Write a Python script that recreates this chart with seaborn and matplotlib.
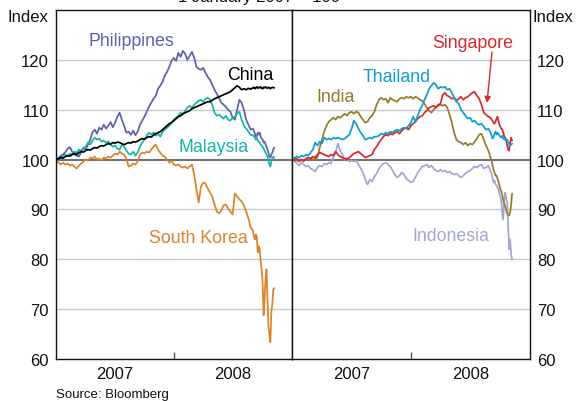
import numpy as np
import pandas as pd
import matplotlib
matplotlib.use("Agg")
import matplotlib.pyplot as plt
import seaborn as sns

# ---------------- data (index, 1 January 2007 = 100) ----------------
WEEKLY_START = "2007-01-02"
TAIL_START = "2008-09-05"

philippines = [100.0, 100.3, 100.8, 101.0, 101.5, 102.2, 102.5, 101.6, 101.0, 100.8,
               100.6, 101.5, 102.3, 102.0, 103.0, 104.0, 105.5, 106.0, 105.2, 106.4,
               106.0, 107.0, 106.2, 106.8, 107.5, 106.5, 107.4, 108.6, 109.4, 108.0,
               106.8, 105.4, 105.6, 105.0, 105.8, 104.9, 105.6, 107.0, 107.8, 108.6,
               109.6, 110.6, 111.4, 112.2, 112.8, 114.2, 114.8, 115.6, 116.8, 117.6,
               118.6, 119.8, 120.4, 119.8, 121.4, 120.6, 121.8, 121.2, 120.0, 120.8,
               121.6, 120.4, 118.6, 118.2, 118.0, 118.4, 117.4, 116.6, 116.0, 115.0,
               114.0, 113.2, 112.4, 111.4, 111.0, 110.6, 110.0, 109.6, 108.4, 108.0,
               110.0, 112.0, 111.4, 110.0, 108.0, 107.0, 106.0, 106.2,
               105.8, 105.2, 104.6, 104.8, 105.4, 105.0, 105.4, 104.6, 104.2, 104.0,
               103.4, 103.6, 103.0, 102.6, 102.0, 101.4, 100.6, 100.4, 101.0, 101.4,
               102.0, 102.4]

china = [100.0, 100.2, 100.4, 100.3, 100.6, 100.8, 100.7, 101.0, 101.2, 101.0,
         101.4, 101.6, 101.5, 101.8, 102.0, 101.9, 102.2, 102.4, 102.3, 102.6,
         102.8, 102.7, 103.0, 103.2, 103.1, 103.4, 103.3, 103.5, 103.4, 103.2,
         103.0, 103.2, 103.4, 103.3, 103.6, 103.5, 103.7, 104.0, 104.2, 104.1,
         104.4, 104.6, 104.5, 104.9, 105.2, 105.4, 105.6, 106.0, 106.4, 106.8,
         107.2, 107.4, 107.8, 108.2, 108.6, 108.8, 109.2, 109.4, 109.6, 109.8,
         110.2, 110.4, 110.6, 110.8, 111.0, 111.2, 111.4, 111.6, 111.6, 111.9,
         112.2, 112.4, 112.6, 112.8, 113.0, 113.2, 113.4, 113.6, 114.0, 114.4,
         114.8, 114.5, 114.0, 114.2, 114.0, 114.3, 114.1, 114.4,
         114.5, 114.2, 114.4, 114.6, 114.3, 114.5, 114.4, 114.6, 114.3, 114.2,
         114.5, 114.4, 114.6, 114.4, 114.3, 114.5, 114.4, 114.2, 114.4, 114.5,
         114.4, 114.4]

malaysia = [100.0, 100.4, 100.2, 100.8, 101.0, 100.6, 101.2, 101.0, 101.6, 101.4,
            102.0, 101.8, 102.4, 102.6, 103.4, 103.0, 103.8, 104.4, 104.0, 104.2,
            103.6, 103.8, 103.4, 103.6, 103.0, 102.6, 102.8, 102.2, 102.0, 103.0,
            102.6, 101.8, 101.2, 101.0, 101.6, 100.8, 101.4, 102.6, 103.4, 104.0,
            104.8, 105.4, 105.0, 105.4, 104.8, 105.2, 104.6, 105.6, 106.0, 106.4,
            106.8, 107.4, 108.0, 108.4, 108.8, 109.4, 109.0, 109.8, 110.4, 110.8,
            110.4, 111.0, 111.4, 111.8, 112.0, 111.6, 112.2, 112.4, 112.0, 111.0,
            109.4, 108.8, 109.0, 108.6, 108.2, 108.8, 108.0, 107.8, 108.4, 108.6,
            109.2, 109.6, 108.0, 106.8, 106.2, 105.6, 105.0, 104.8,
            104.8, 104.4, 104.0, 104.4, 103.8, 103.6, 103.4, 103.0, 102.8, 102.6,
            102.2, 101.8, 101.4, 101.0, 100.6, 99.8, 99.0, 98.6, 99.6, 100.2,
            100.6, 100.4]

south_korea = [99.8, 99.4, 99.0, 99.4, 99.0, 99.2, 98.8, 99.0, 98.6, 98.2,
               98.8, 99.2, 99.6, 100.0, 99.8, 100.4, 100.2, 100.6, 100.0, 100.2,
               99.8, 100.4, 100.2, 100.6, 100.4, 100.8, 101.2, 101.0, 101.6, 101.2,
               101.0, 100.2, 98.6, 98.8, 99.2, 99.0, 99.6, 101.0, 101.4, 101.2,
               101.6, 101.4, 102.0, 102.6, 103.0, 102.0, 101.4, 100.8, 100.6, 100.0,
               99.4, 99.8, 99.0, 98.8, 99.0, 98.6, 98.4, 98.6, 98.2, 98.6,
               99.0, 97.0, 94.0, 91.4, 94.6, 95.4, 95.2, 94.2, 93.4, 92.6,
               91.0, 89.6, 89.2, 89.8, 90.8, 91.0, 90.2, 89.6, 89.0, 93.2,
               92.6, 92.0, 91.6, 90.8, 89.6, 88.2, 86.4, 85.8,
               84.6, 84.0, 85.0, 84.4, 81.4, 82.6, 82.0, 79.4, 78.0, 75.4,
               68.8, 72.0, 76.0, 78.0, 72.0, 66.6, 64.8, 63.4, 69.4, 71.0,
               74.0, 74.2]

india = [100.0, 100.2, 99.8, 99.6, 100.0, 99.6, 100.2, 99.8, 100.4, 100.0,
         100.2, 100.4, 102.4, 104.0, 105.6, 106.8, 107.6, 108.0, 108.4, 108.0,
         108.6, 108.4, 108.8, 109.2, 108.8, 109.4, 109.6, 109.2, 109.6, 109.4,
         108.6, 108.0, 107.4, 107.6, 108.4, 108.8, 109.6, 111.0, 112.0, 112.4,
         112.0, 112.2, 111.4, 112.4, 112.0, 111.8, 111.6, 112.2, 112.4, 112.2,
         112.6, 112.4, 112.6, 112.2, 112.6, 112.4, 112.0, 111.8, 111.2, 110.4,
         109.8, 109.4, 110.0, 110.6, 110.8, 111.0, 110.8, 111.0, 110.4, 109.0,
         107.4, 105.4, 104.0, 103.6, 103.4, 103.0, 103.4, 102.8, 103.2, 103.0,
         103.6, 104.2, 105.0, 105.2, 104.0, 102.8, 101.8, 100.4,
         99.8, 98.8, 98.0, 97.4, 96.8, 96.8, 96.2, 95.6, 94.8, 94.0,
         93.6, 92.8, 91.8, 91.2, 90.6, 89.8, 89.2, 88.8, 88.8, 89.4,
         91.0, 93.2]

thailand = [100.0, 100.4, 100.6, 100.4, 100.8, 100.6, 101.0, 100.8, 101.4, 102.0,
            103.4, 102.8, 103.6, 103.2, 104.4, 104.0, 104.2, 104.0, 104.4, 104.2,
            104.4, 104.2, 104.0, 104.2, 104.6, 105.0, 106.2, 107.8, 107.2, 106.2,
            105.4, 104.8, 104.0, 104.2, 104.4, 104.2, 104.6, 104.6, 104.8, 105.2,
            105.0, 105.4, 105.2, 105.6, 105.4, 105.8, 106.0, 105.8, 106.2, 106.4,
            106.2, 106.8, 107.4, 108.6, 107.6, 108.8, 110.0, 110.8, 112.0, 113.0,
            114.2, 114.8, 115.4, 115.0, 114.2, 114.6, 114.4, 114.6, 114.0, 114.2,
            113.4, 112.4, 111.6, 111.2, 110.0, 109.4, 108.8, 108.2, 108.4, 107.6,
            107.8, 107.2, 107.0, 107.2, 106.6, 106.0, 106.2, 105.4,
            104.8, 104.2, 104.6, 105.2, 105.6, 105.0, 105.4, 105.2, 104.8, 104.6,
            104.4, 104.8, 104.2, 104.0, 104.2, 103.8, 104.0, 103.4, 103.0, 102.8,
            103.0, 103.2]

singapore = [100.0, 99.8, 100.2, 99.8, 100.0, 99.8, 100.2, 100.4, 100.2, 100.6,
             100.4, 101.0, 101.4, 101.2, 101.0, 100.8, 100.6, 101.0, 100.8, 101.6,
             101.0, 100.6, 100.4, 100.2, 100.0, 100.4, 100.8, 101.2, 101.4, 101.6,
             101.2, 100.8, 100.4, 100.6, 100.8, 101.0, 102.0, 102.6, 103.4, 104.0,
             104.6, 105.0, 104.8, 105.2, 105.0, 105.4, 105.6, 105.2, 105.8, 106.2,
             106.4, 106.0, 106.8, 107.2, 107.6, 108.2, 108.6, 108.8, 109.4, 109.8,
             110.4, 110.6, 110.8, 110.4, 111.0, 111.2, 113.0, 113.4, 112.8, 112.6,
             112.2, 112.4, 111.8, 112.2, 112.6, 112.0, 112.4, 112.6, 113.0, 113.4,
             113.6, 112.8, 112.2, 111.0, 109.4, 109.0, 108.6, 108.4,
             108.0, 107.8, 107.4, 107.2, 107.6, 108.2, 108.6, 107.8, 107.0, 106.6,
             106.2, 106.0, 105.4, 104.6, 104.4, 103.8, 102.8, 102.0, 101.8, 103.4,
             104.4, 103.8]

indonesia = [100.0, 99.6, 99.2, 98.8, 99.4, 99.0, 98.6, 98.8, 98.2, 98.0,
             97.6, 98.4, 98.8, 98.6, 99.2, 99.0, 99.4, 99.2, 100.4, 101.4,
             103.2, 101.8, 101.0, 100.0, 100.4, 99.6, 99.8, 99.6, 99.8, 99.0,
             98.2, 97.4, 96.0, 95.0, 96.0, 95.6, 96.6, 97.2, 98.2, 98.8,
             99.2, 99.4, 99.0, 98.6, 97.8, 97.0, 96.4, 96.8, 97.4, 97.0,
             96.2, 95.8, 95.4, 95.6, 96.4, 97.4, 98.0, 98.6, 98.8, 99.0,
             98.4, 98.8, 98.2, 97.8, 97.6, 98.0, 97.6, 97.8, 97.4, 97.6,
             97.2, 97.0, 97.2, 96.8, 96.4, 96.8, 97.2, 97.6, 97.8, 98.2,
             98.6, 98.4, 98.8, 99.0, 98.2, 98.4, 98.8, 97.6,
             97.2, 96.2, 95.4, 95.8, 95.0, 94.8, 94.4, 94.0, 93.2, 92.6,
             91.6, 89.0, 88.0, 92.4, 93.4, 92.0, 91.4, 86.4, 82.0, 84.0,
             81.0, 80.0]

left_series = ["South Korea", "Philippines", "Malaysia", "China"]
right_series = ["Indonesia", "India", "Singapore", "Thailand"]
year_labels = ["2007", "2008"]
y_ticks = [60, 70, 80, 90, 100, 110, 120]

colors = {
    "Philippines": "#5c60ad",
    "China": "#000000",
    "Malaysia": "#14b4a6",
    "South Korea": "#dc8228",
    "India": "#957b2c",
    "Thailand": "#0a9fd2",
    "Singapore": "#d8282e",
    "Indonesia": "#a2a5d6",
}

# ---------------- build table ----------------
dates = list(pd.date_range(WEEKLY_START, periods=88, freq="7D")) + \
        list(pd.date_range(TAIL_START, periods=22, freq="3D"))
values = {"Philippines": philippines, "China": china, "Malaysia": malaysia,
          "South Korea": south_korea, "India": india, "Thailand": thailand,
          "Singapore": singapore, "Indonesia": indonesia}
rows = []
for name, vals in values.items():
    assert len(vals) == len(dates), (name, len(vals))
    for d, v in zip(dates, vals):
        rows.append({"date": d, "value": v, "series": name})
df = pd.DataFrame(rows)

# ---------------- figure ----------------
sns.set_theme(style="white")
plt.rcParams["font.family"] = ["Liberation Sans", "DejaVu Sans"]

W, H = 579, 402
fig = plt.figure(figsize=(W / 100, H / 100), dpi=100)
left_px, mid_px, right_px, top_px, bot_px = 56, 292, 530, 11, 360
ax1 = fig.add_axes([left_px / W, 1 - bot_px / H, (mid_px - left_px) / W, (bot_px - top_px) / H])
ax2 = fig.add_axes([mid_px / W, 1 - bot_px / H, (right_px - mid_px) / W, (bot_px - top_px) / H])

for ax, names in ((ax1, left_series), (ax2, right_series)):
    for yv in [70, 80, 90, 110, 120]:
        ax.axhline(yv, color="#c8c8c8", lw=1.0, zorder=0)
    ax.axhline(100, color="#555555", lw=1.2, zorder=1)
    sub = df[df["series"].isin(names)]
    sns.lineplot(data=sub, x="date", y="value", hue="series", hue_order=names,
                 palette=colors, ax=ax, legend=False, linewidth=1.25, zorder=2)
    ax.set_xlim(pd.Timestamp("2007-01-01"), pd.Timestamp("2009-01-01"))
    ax.set_ylim(60, 130)
    ax.set_xlabel("")
    ax.set_ylabel("")
    ax.set_xticks([pd.Timestamp("2008-01-01")])
    ax.set_xticklabels([""])
    ax.set_xticks([pd.Timestamp("2007-07-02"), pd.Timestamp("2008-07-02")], minor=True)
    ax.set_xticklabels(year_labels, minor=True)
    ax.tick_params(axis="x", which="major", direction="in", length=5, width=1, color="#555555", bottom=True)
    ax.tick_params(axis="x", which="minor", length=0, labelsize=12, pad=5, labelcolor="#111111")
    ax.set_yticks(y_ticks)
    for s in ax.spines.values():
        s.set_color("#111111")
        s.set_linewidth(1.0)
    ax.grid(False)

ax1.tick_params(axis="y", length=0, labelsize=12, pad=5, labelcolor="#111111")
ax2.yaxis.tick_right()
ax2.tick_params(axis="y", length=0, labelsize=12, pad=5, labelcolor="#111111", right=True, left=False)

def px(x, y):
    return x / W, 1 - y / H

# unit labels and title
fig.text(*px(28, 18), "Index", ha="center", va="center", fontsize=12, color="#111111")
fig.text(*px(553, 18), "Index", ha="center", va="center", fontsize=12, color="#111111")
fig.text(*px(340, 5), "1 January 2007 = 100", ha="right", va="bottom", fontsize=12, color="#111111")
fig.text(*px(56, 389), "Source: Bloomberg", ha="left", va="top", fontsize=9.5, color="#111111")

# series labels
labels = [
    ("Philippines", 131, 42),
    ("China", 250, 76),
    ("Malaysia", 214, 148),
    ("South Korea", 198, 239),
    ("India", 336, 97),
    ("Thailand", 397, 77),
    ("Singapore", 473, 43),
    ("Indonesia", 451, 237),
]
for name, x, y in labels:
    fig.text(*px(x, y), name, ha="center", va="center", fontsize=12.8, color=colors[name])

# Singapore arrow
ax2.annotate("", xy=(487, H - 104), xycoords="figure pixels",
             xytext=(492, H - 53), textcoords="figure pixels",
             arrowprops=dict(arrowstyle="-|>", color=colors["Singapore"], lw=1.0,
                             mutation_scale=9, shrinkA=0, shrinkB=0))

fig.savefig("out.png", dpi=100)
